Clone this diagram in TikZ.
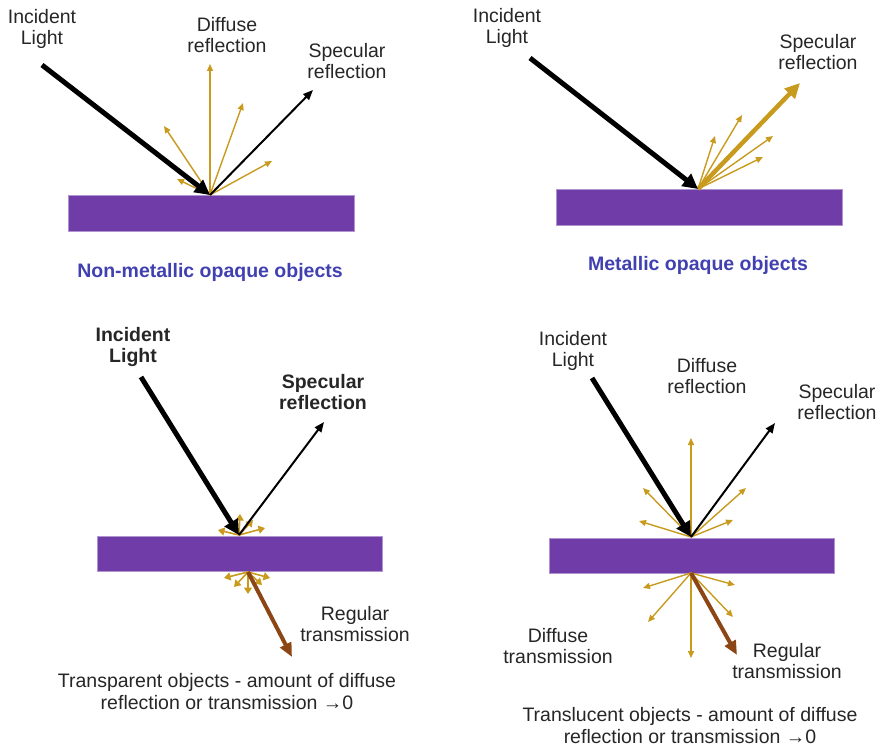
\documentclass[tikz,border=0pt]{standalone}
\usepackage{fontspec}
\setmainfont{Liberation Sans}
\usetikzlibrary{arrows.meta}
\definecolor{slab}{RGB}{112,61,168}
\definecolor{gold}{RGB}{200,155,30}
\definecolor{brownray}{RGB}{140,70,22}
\definecolor{capblue}{RGB}{64,64,176}
\tikzset{
  lbl/.style={align=center, font=\fontsize{19.5}{21.5}\selectfont, inner sep=0pt, text=black!85},
  blbl/.style={align=center, font=\fontsize{19.5}{21.5}\selectfont\bfseries, inner sep=0pt, text=black!85},
  captxt/.style={align=center, font=\fontsize{19.5}{22}\selectfont, inner sep=0pt, text=black!85},
  capblue/.style={font=\fontsize{19.5}{22}\selectfont\bfseries, text=capblue, inner sep=0pt},
  slabbox/.style={fill=slab, draw=slab!55!white, line width=0.6pt, minimum height=36pt, inner sep=0pt},
  incident/.style={line width=5pt, -{Triangle[length=15pt,width=15pt]}},
  specular/.style={line width=2pt, -{Triangle[length=10pt,width=8pt]}},
  diffuse/.style={gold, line width=1.4pt, -{Triangle[length=7pt,width=6pt]}},
  tiny/.style={gold, line width=1.6pt, -{Triangle[length=6.5pt,width=8pt]}},
  goldspec/.style={gold, line width=4.5pt, -{Triangle[length=15pt,width=14pt]}},
  regular/.style={brownray, line width=4pt, -{Triangle[length=14pt,width=12pt]}},
}
\begin{document}
\begin{tikzpicture}[x=1pt,y=-1pt]
\useasboundingbox (0,0) rectangle (884,754);

% ---------- Panel 1: non-metallic opaque ----------
\node[slabbox, minimum width=286pt, anchor=north] (s1) at (211,195) {};
\coordinate (o1) at (210,195);
\coordinate (i1) at (42,65);
\coordinate (sp1) at (313,90);
\coordinate (d1a) at (210,64);
\coordinate (d1b) at (243,103);
\coordinate (d1c) at (164,126);
\coordinate (d1d) at (272,161);
\coordinate (d1e) at (177,179);
\draw[diffuse] (o1) -- (d1a);
\draw[diffuse] (o1) -- (d1b);
\draw[diffuse] (o1) -- (d1c);
\draw[diffuse] (o1) -- (d1d);
\draw[diffuse] (o1) -- (d1e);
\draw[specular] (o1) -- (sp1);
\draw[incident] (i1) -- (o1);
\node[lbl] (l1a) at (42,29) {Incident\\Light};
\node[lbl] (l1b) at (227,35) {Diffuse\\reflection};
\node[lbl] (l1c) at (347,61) {Specular\\reflection};
\node[capblue] (c1) at (210,272) {Non-metallic opaque objects};

% ---------- Panel 2: metallic opaque ----------
\node[slabbox, minimum width=286pt, anchor=north] (s2) at (699,189) {};
\coordinate (o2) at (698,189);
\coordinate (i2) at (530,58);
\coordinate (sp2) at (800,83);
\coordinate (d2a) at (715,136);
\coordinate (d2b) at (742,115);
\coordinate (d2c) at (773,136);
\coordinate (d2d) at (763,157);
\draw[diffuse] (o2) -- (d2a);
\draw[diffuse] (o2) -- (d2b);
\draw[diffuse] (o2) -- (d2c);
\draw[diffuse] (o2) -- (d2d);
\draw[goldspec] (o2) -- (sp2);
\draw[incident] (i2) -- (o2);
\node[lbl] (l2a) at (507,28) {Incident\\Light};
\node[lbl] (l2c) at (818,52) {Specular\\reflection};
\node[capblue] (c2) at (698,265) {Metallic opaque objects};

% ---------- Panel 3: transparent ----------
\node[slabbox, minimum width=285pt, minimum height=35pt, anchor=north] (s3) at (239.5,536) {};
\coordinate (o3) at (239,535);
\coordinate (o3b) at (248,572);
\coordinate (i3) at (141,377);
\coordinate (sp3) at (324,422);
\coordinate (t3a) at (218,530);
\coordinate (t3b) at (229,522);
\coordinate (t3c) at (240,514);
\coordinate (t3d) at (253,520);
\coordinate (t3e) at (265,528);
\coordinate (b3a) at (224,578);
\coordinate (b3b) at (234,587);
\coordinate (b3c) at (248,594);
\coordinate (b3d) at (262,585);
\coordinate (b3e) at (270,578);
\coordinate (r3) at (292,657);
\foreach \p in {t3a,t3b,t3c,t3d,t3e} \draw[tiny] (o3) -- (\p);
\foreach \p in {b3a,b3b,b3c,b3d,b3e} \draw[tiny] (o3b) -- (\p);
\draw[specular] (o3) -- (sp3);
\draw[incident] (i3) -- (o3);
\draw[regular] (o3b) -- (r3);
\node[blbl] (l3a) at (133,347) {Incident\\Light};
\node[blbl] (l3c) at (323,392) {Specular\\reflection};
\node[lbl] (l3r) at (355,624) {Regular\\transmission};
\node[captxt] (c3) at (227,692) {Transparent objects - amount of diffuse\\reflection or transmission →0};

% ---------- Panel 4: translucent ----------
\node[slabbox, minimum width=285pt, minimum height=35pt, anchor=north] (s4) at (691.5,538) {};
\coordinate (o4) at (691,537);
\coordinate (o4b) at (691,573);
\coordinate (i4) at (592,378);
\coordinate (sp4) at (775,423);
\coordinate (u4a) at (691,438);
\coordinate (u4b) at (643,488);
\coordinate (u4c) at (746,488);
\coordinate (u4d) at (639,521);
\coordinate (u4e) at (733,520);
\coordinate (w4a) at (643,588);
\coordinate (w4b) at (735,585);
\coordinate (w4c) at (648,622);
\coordinate (w4d) at (733,617);
\coordinate (w4e) at (691,658);
\coordinate (r4) at (737,655);
\foreach \p in {u4a,u4b,u4c,u4d,u4e} \draw[diffuse] (o4) -- (\p);
\foreach \p in {w4a,w4b,w4c,w4d,w4e} \draw[diffuse] (o4b) -- (\p);
\draw[specular] (o4) -- (sp4);
\draw[incident] (i4) -- (o4);
\draw[regular] (o4b) -- (r4);
\node[lbl] (l4a) at (573,351) {Incident\\Light};
\node[lbl] (l4b) at (707,376) {Diffuse\\reflection};
\node[lbl] (l4c) at (837,402) {Specular\\reflection};
\node[lbl] (l4d) at (558,646) {Diffuse\\transmission};
\node[lbl] (l4r) at (787,661) {Regular\\transmission};
\node[captxt] (c4) at (690,726) {Translucent objects - amount of diffuse\\reflection or transmission →0};
\end{tikzpicture}
\end{document}
